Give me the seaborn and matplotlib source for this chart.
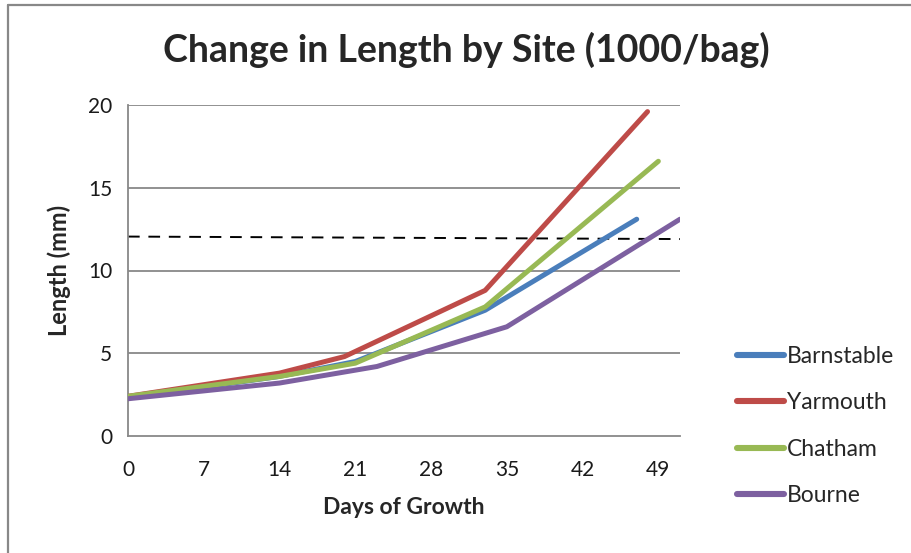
import matplotlib
matplotlib.use("Agg")
import matplotlib.pyplot as plt
from matplotlib.lines import Line2D
from matplotlib.ticker import MultipleLocator
import numpy as np
import pandas as pd
import seaborn as sns

# ---- data ----
sites = ["Barnstable", "Yarmouth", "Chatham", "Bourne"]
barnstable_days = [0, 14, 21, 33, 47]
barnstable_len = [2.3, 3.6, 4.5, 7.6, 13.1]
yarmouth_days = [0, 14, 20, 33, 48]
yarmouth_len = [2.4, 3.8, 4.8, 8.8, 19.6]
chatham_days = [0, 14, 21, 33, 49]
chatham_len = [2.4, 3.6, 4.4, 7.8, 16.6]
bourne_days = [0, 14, 23, 35, 51]
bourne_len = [2.25, 3.2, 4.2, 6.6, 13.1]
target_days = [0, 51]
target_len = [12.05, 11.9]
x_ticks = [0, 7, 14, 21, 28, 35, 42, 49]
y_ticks = [0, 5, 10, 15, 20]
colors = ["#4A7EBB", "#BE4B48", "#98B954", "#7D60A0"]

days_all = [barnstable_days, yarmouth_days, chatham_days, bourne_days]
len_all = [barnstable_len, yarmouth_len, chatham_len, bourne_len]
df = pd.DataFrame({
    "Days": sum(days_all, []),
    "Length": sum(len_all, []),
    "Site": sum([[s] * len(d) for s, d in zip(sites, days_all)], []),
})

sns.set_style("white")
plt.rcParams["font.family"] = ["Lato", "DejaVu Sans"]

fig = plt.figure(figsize=(9.12, 5.53), dpi=100)
ax = fig.add_axes([128 / 912, 1 - 436 / 553, (680 - 128) / 912, (436 - 105) / 553])

grid_c = "#888888"
for y in y_ticks[1:]:
    ax.axhline(y, color=grid_c, lw=1.3, zorder=0)

ax.plot(target_days, target_len, color="black", lw=1.4, dashes=(6, 4.5), zorder=1)

sns.lineplot(data=df, x="Days", y="Length", hue="Site", hue_order=sites,
             palette=colors, linewidth=3.6, ax=ax, sort=False,
             estimator=None, legend=True, solid_capstyle="round", zorder=3)

ax.set_xlim(0, 51)
ax.set_ylim(0, 20)
ax.set_xticks(x_ticks)
ax.set_yticks(y_ticks)
ax.xaxis.set_minor_locator(MultipleLocator(1))
ax.yaxis.set_minor_locator(MultipleLocator(1))
ax.tick_params(which="major", direction="inout", length=11, width=1.3,
               color=grid_c, labelsize=15, pad=6, labelcolor="#1a1a1a")
ax.tick_params(which="minor", direction="in", length=5, width=1.1, color=grid_c)
ax.tick_params(axis="x", which="major", pad=12)
for s in ["top", "right"]:
    ax.spines[s].set_visible(False)
for s in ["left", "bottom"]:
    ax.spines[s].set_color(grid_c)
    ax.spines[s].set_linewidth(1.3)

ax.set_xlabel("Days of Growth", fontsize=16.5, fontweight="bold", labelpad=12)
ax.set_ylabel("Length (mm)", fontsize=17, fontweight="bold", labelpad=12)
fig.text(466 / 912, 1 - 50 / 553, "Change in Length by Site (1000/bag)",
         fontsize=27, fontweight="bold", ha="center", va="center")

leg = ax.legend(loc="center left", bbox_to_anchor=(728 / 912, 1 - 426 / 553),
                bbox_transform=fig.transFigure, frameon=False, fontsize=16.5,
                handlelength=2.05, handletextpad=0.12, labelspacing=1.1,
                borderaxespad=0)
for h in leg.get_lines():
    h.set_linewidth(4.4)
    h.set_solid_capstyle("round")

# chart border
fig.add_artist(Line2D([8 / 912, 8 / 912], [0, 1 - 5 / 553], transform=fig.transFigure,
                      color="#888888", lw=1.6))
fig.add_artist(Line2D([8 / 912, 1], [1 - 5 / 553, 1 - 5 / 553], transform=fig.transFigure,
                      color="#888888", lw=1.6))

fig.savefig("out.png", dpi=100)
